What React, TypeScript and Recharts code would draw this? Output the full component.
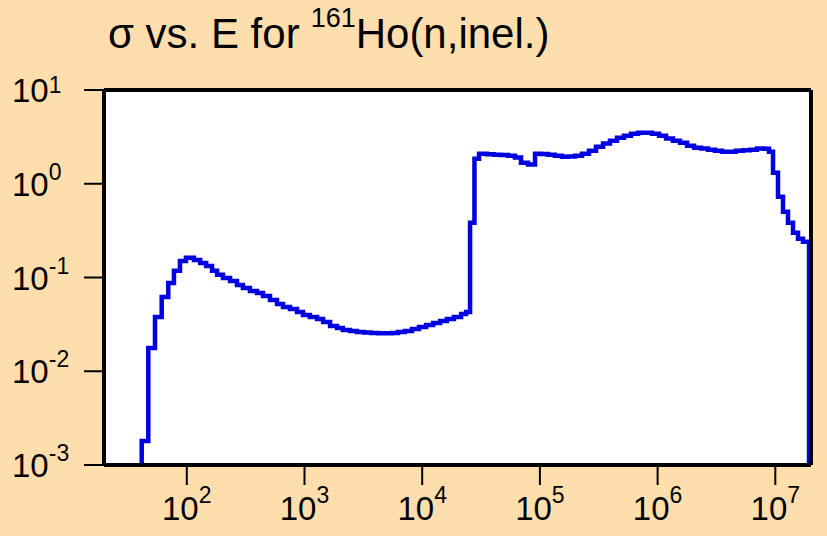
import React from "react";
import { LineChart, Line, XAxis, YAxis, CartesianGrid } from "recharts";

// energy bin edges (eV) and cross sections (b)
const energies = [
  41.4, 41.4, 47.1, 53.7, 61.2, 69.6, 77.8, 87.5, 98.4, 115, 130, 146, 164, 181, 203, 233, 267, 300,
  344, 395, 444, 509, 584, 657, 753, 864, 971, 1110, 1280, 1440, 1650, 1890, 2120, 2440, 2790, 3200,
  3670, 4210, 4830, 5540, 6230, 7140, 8190, 9390, 10800, 12400, 14200, 16200, 18600, 21400, 23600,
  25500, 27800, 30400, 35500, 40700, 46700, 53600, 61400, 69100, 79300, 90900, 102000, 117000,
  134000, 154000, 173000, 199000, 228000, 261000, 300000, 344000, 394000, 452000, 518000, 594000,
  682000, 782000, 896000, 1.03e6, 1.18e6, 1.35e6, 1.55e6, 1.78e6, 2.04e6, 2.34e6, 2.68e6, 3.07e6,
  3.53e6, 4.04e6, 4.63e6, 5.32e6, 6.1e6, 6.99e6, 8.01e6, 8.84e6, 9.56e6, 1.054e7, 1.162e7, 1.282e7,
  1.414e7, 1.559e7, 1.719e7, 1.934e7,
];
const sigmas = [
  1e-4, 0.0018, 0.0177, 0.0379, 0.0621, 0.0875, 0.118, 0.15, 0.162, 0.154, 0.143, 0.133, 0.118, 0.107,
  0.099, 0.092, 0.0834, 0.0774, 0.0719, 0.0685, 0.0636, 0.0576, 0.0522, 0.0485, 0.0462, 0.0429, 0.0399,
  0.0379, 0.0361, 0.0335, 0.0304, 0.0289, 0.0276, 0.0269, 0.0262, 0.0259, 0.0256, 0.0255, 0.0255,
  0.0256, 0.0262, 0.0269, 0.0282, 0.0297, 0.0312, 0.0327, 0.0344, 0.0361, 0.0379, 0.0408, 0.0429,
  0.383, 1.85, 2.09, 2.07, 2.04, 2.03, 1.99, 1.9, 1.68, 1.6, 2.09, 2.08, 2.04, 1.99, 1.94, 1.95, 1.99,
  2.09, 2.25, 2.48, 2.68, 2.88, 3.1, 3.26, 3.42, 3.51, 3.5, 3.42, 3.26, 3.03, 2.88, 2.74, 2.55, 2.42,
  2.37, 2.31, 2.25, 2.2, 2.2, 2.25, 2.27, 2.31, 2.37, 2.36, 2.2, 1.31, 0.726, 0.502, 0.383, 0.3, 0.259,
  0.24, 1e-4,
];
const xTicks = [1e2, 1e3, 1e4, 1e5, 1e6, 1e7];
const yTicks = [1e-3, 1e-2, 1e-1, 1e0, 1e1];
const xDomain = [19.8, 2.01e7];
const yDomain = [1e-3, 10];

const data = energies.map((e, i) => ({ e, s: sigmas[i] }));

const FONT = "'Liberation Sans', Arial, Helvetica, sans-serif";
const BG = "#FFDEAD";

function exp10(v: number) {
  return Math.round(Math.log10(v));
}

function BottomTick({ x, y, payload }: any) {
  return (
    <text x={x} y={y + 35} textAnchor="middle" fontFamily={FONT} fontSize={33} fill="#000">
      10
      <tspan fontSize={23} dy={-17}>
        {exp10(payload.value)}
      </tspan>
    </text>
  );
}

function LeftTick({ x, y, payload }: any) {
  const p = exp10(payload.value);
  return (
    <text x={x - 72} y={y + 12} textAnchor="start" fontFamily={FONT} fontSize={33} fill="#000">
      10
      <tspan fontSize={23} dy={p === 1 ? -9 : -16}>
        {p}
      </tspan>
    </text>
  );
}

const axisLine = { stroke: "#000", strokeWidth: 4 };
const tickLine = { stroke: "#000", strokeWidth: 2 };

export default function App() {
  return (
    <div style={{ position: "fixed", left: 0, top: 0, width: 827, height: 536, background: BG }}>
      <LineChart width={827} height={536} data={data} margin={{ top: 60, right: 0, bottom: 11, left: 14 }}>
        <CartesianGrid xAxisId="b" yAxisId="l" fill="#fff" horizontal={false} vertical={false} />
        <XAxis
          xAxisId="b"
          dataKey="e"
          type="number"
          scale="log"
          domain={xDomain}
          allowDataOverflow
          ticks={xTicks}
          height={60}
          tickSize={20}
          tickMargin={0}
          axisLine={axisLine}
          tickLine={tickLine}
          tick={<BottomTick />}
        />
        <XAxis
          xAxisId="t"
          dataKey="e"
          orientation="top"
          type="number"
          scale="log"
          domain={xDomain}
          allowDataOverflow
          ticks={xTicks}
          height={30}
          tickSize={20}
          axisLine={axisLine}
          tickLine={tickLine}
          tick={false}
        />
        <YAxis
          yAxisId="l"
          type="number"
          scale="log"
          domain={yDomain}
          allowDataOverflow
          ticks={yTicks}
          width={90}
          tickSize={20}
          tickMargin={0}
          axisLine={axisLine}
          tickLine={tickLine}
          tick={<LeftTick />}
        />
        <YAxis
          yAxisId="r"
          orientation="right"
          type="number"
          scale="log"
          domain={yDomain}
          allowDataOverflow
          ticks={yTicks}
          width={16}
          tickSize={20}
          axisLine={axisLine}
          tickLine={tickLine}
          tick={false}
        />
        <Line
          xAxisId="b"
          yAxisId="l"
          dataKey="s"
          type="stepAfter"
          stroke="#0000E0"
          strokeWidth={4.5}
          strokeLinejoin="miter"
          strokeLinecap="butt"
          dot={false}
          activeDot={false}
          isAnimationActive={false}
        />
      </LineChart>
      <svg width={827} height={70} style={{ position: "absolute", left: 0, top: 0, pointerEvents: "none" }}>
        <text x={108} y={48} fontFamily={FONT} fontSize={42} fill="#000">
          σ vs. E for
          <tspan fontSize={27} dx={11} dy={-21}>
            161
          </tspan>
          <tspan dy={21}>Ho(n,inel.)</tspan>
        </text>
      </svg>
    </div>
  );
}
